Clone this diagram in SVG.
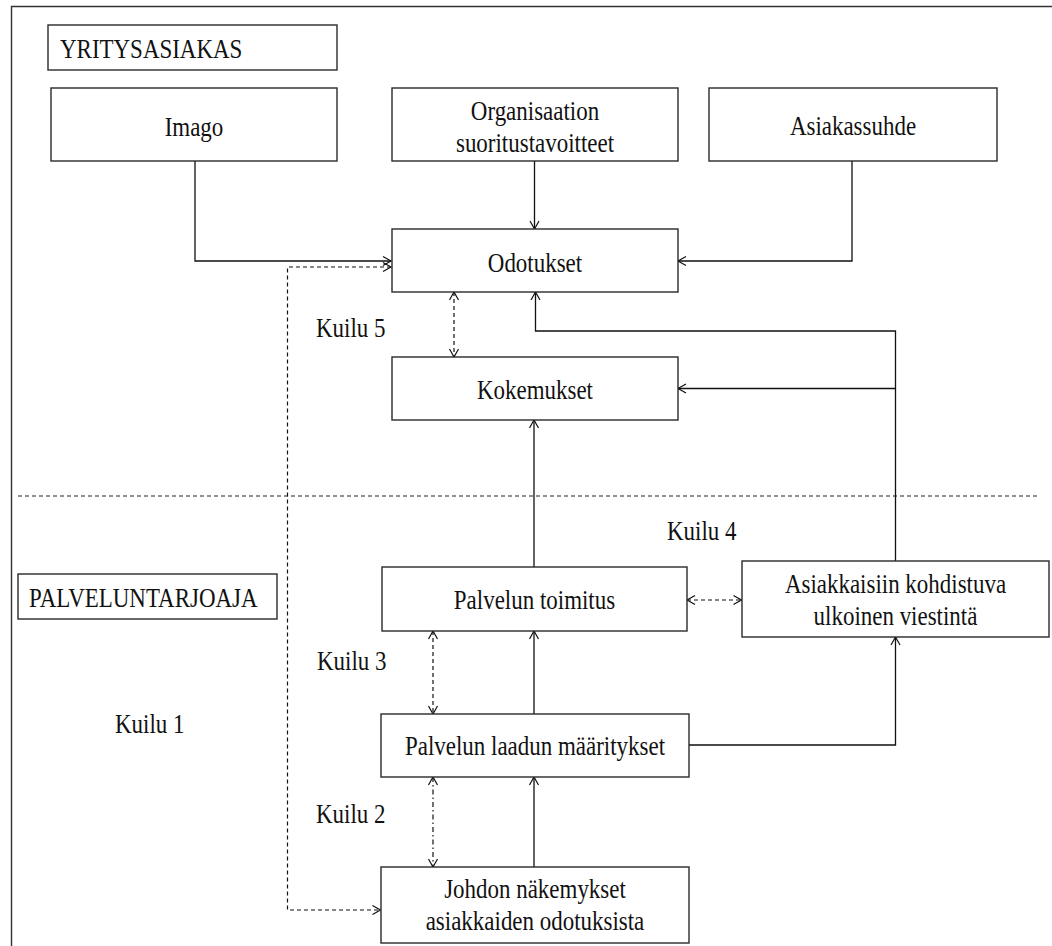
<svg xmlns="http://www.w3.org/2000/svg" width="1052" height="946" viewBox="0 0 1052 946">
  <defs>
    <style>
      .box { fill: #fff; stroke: #2a2a2a; stroke-width: 1.4; }
      .frame { fill: none; stroke: #333; stroke-width: 1.4; }
      .line { fill: none; stroke: #111; stroke-width: 1.3; }
      .dash { fill: none; stroke: #111; stroke-width: 1.2; stroke-dasharray: 4 3; }
      .dashdot { fill: none; stroke: #111; stroke-width: 1.2; stroke-dasharray: 5 3 1.5 3; }
      .sep { fill: none; stroke: #222; stroke-width: 1.2; stroke-dasharray: 4 3; }
      text { font-family: "Liberation Serif", "Times New Roman", serif; font-size: 28px; fill: #111; }
      .c { text-anchor: middle; }
    </style>
    <marker id="arr" viewBox="-10 -6 12 12" refX="0" refY="0" markerWidth="12" markerHeight="12" markerUnits="userSpaceOnUse" orient="auto-start-reverse">
      <path d="M-8,-4.5 L0,0 L-8,4.5" fill="none" stroke="#111" stroke-width="1.2"/>
    </marker>
  </defs>

  <!-- outer frame -->
  <path class="frame" d="M11.5,946 V6.5 H1052"/>

  <!-- customer / provider separator -->
  <line class="sep" x1="18" y1="496" x2="1037" y2="496"/>

  <!-- connectors -->
  <g id="connectors">
    <polyline class="line" points="195,161 195,261 391,261" marker-end="url(#arr)"/>
    <line class="line" x1="534.5" y1="161" x2="534.5" y2="229" marker-end="url(#arr)"/>
    <polyline class="line" points="852,161 852,261 678,261" marker-end="url(#arr)"/>
    <polyline class="line" points="895.5,561 895.5,331 535.5,331 535.5,292" marker-end="url(#arr)"/>
    <line class="line" x1="895.5" y1="388.5" x2="678" y2="388.5" marker-end="url(#arr)"/>
    <line class="line" x1="534" y1="567" x2="534" y2="420" marker-end="url(#arr)"/>
    <line class="line" x1="534" y1="714" x2="534" y2="631" marker-end="url(#arr)"/>
    <line class="line" x1="534" y1="867" x2="534" y2="777" marker-end="url(#arr)"/>
    <polyline class="line" points="689,745 895.5,745 895.5,637" marker-end="url(#arr)"/>
    <!-- gap 1 -->
    <polyline class="dash" points="391,267 287.5,267 287.5,910 380.5,910" marker-start="url(#arr)" marker-end="url(#arr)"/>
    <!-- gap 5 -->
    <line class="dash" x1="454" y1="292" x2="454" y2="357" marker-start="url(#arr)" marker-end="url(#arr)"/>
    <!-- gap 4 -->
    <line class="dash" x1="687" y1="600" x2="741.5" y2="600" marker-start="url(#arr)" marker-end="url(#arr)"/>
    <!-- gap 3 -->
    <line class="dash" x1="433" y1="631" x2="433" y2="714" marker-start="url(#arr)" marker-end="url(#arr)"/>
    <!-- gap 2 -->
    <line class="dashdot" x1="433" y1="777" x2="433" y2="867" marker-start="url(#arr)" marker-end="url(#arr)"/>
  </g>

  <g id="yritysasiakas">
    <rect class="box" x="48" y="25" width="289" height="45"/>
    <text transform="translate(60,58) scale(0.82,1)">YRITYSASIAKAS</text>
  </g>

  <g id="imago">
    <rect class="box" x="51" y="88" width="286" height="73"/>
    <text class="c" transform="translate(194,136) scale(0.82,1)">Imago</text>
  </g>

  <g id="organisaatio">
    <rect class="box" x="392" y="88" width="286" height="73"/>
    <text class="c" transform="translate(535,120) scale(0.82,1)">Organisaation</text>
    <text class="c" transform="translate(535,152) scale(0.82,1)">suoritustavoitteet</text>
  </g>

  <g id="asiakassuhde">
    <rect class="box" x="709" y="88" width="288" height="73"/>
    <text class="c" transform="translate(853,135) scale(0.82,1)">Asiakassuhde</text>
  </g>

  <g id="odotukset">
    <rect class="box" x="392" y="229" width="286" height="63"/>
    <text class="c" transform="translate(535,272) scale(0.82,1)">Odotukset</text>
  </g>

  <g id="kokemukset">
    <rect class="box" x="392" y="357" width="286" height="63"/>
    <text class="c" transform="translate(535,399) scale(0.82,1)">Kokemukset</text>
  </g>

  <g id="palveluntarjoaja">
    <rect class="box" x="18" y="574" width="259" height="45"/>
    <text transform="translate(29,607) scale(0.82,1)">PALVELUNTARJOAJA</text>
  </g>

  <g id="toimitus">
    <rect class="box" x="382" y="567" width="305" height="64"/>
    <text class="c" transform="translate(534.5,609) scale(0.82,1)">Palvelun toimitus</text>
  </g>

  <g id="viestinta">
    <rect class="box" x="742" y="561" width="307" height="76"/>
    <text class="c" transform="translate(895.5,593) scale(0.82,1)">Asiakkaisiin kohdistuva</text>
    <text class="c" transform="translate(895.5,625) scale(0.82,1)">ulkoinen viestintä</text>
  </g>

  <g id="laatu">
    <rect class="box" x="381" y="714" width="308" height="63"/>
    <text class="c" transform="translate(535,755) scale(0.82,1)">Palvelun laadun määritykset</text>
  </g>

  <g id="johdon">
    <rect class="box" x="381" y="867" width="308" height="76"/>
    <text class="c" transform="translate(535,898) scale(0.82,1)">Johdon näkemykset</text>
    <text class="c" transform="translate(535,930) scale(0.82,1)">asiakkaiden odotuksista</text>
  </g>

  <g id="kuilut">
    <text transform="translate(316,337) scale(0.82,1)">Kuilu 5</text>
    <text transform="translate(667,540) scale(0.82,1)">Kuilu 4</text>
    <text transform="translate(317,670) scale(0.82,1)">Kuilu 3</text>
    <text transform="translate(115,733) scale(0.82,1)">Kuilu 1</text>
    <text transform="translate(316,823) scale(0.82,1)">Kuilu 2</text>
  </g>
</svg>
